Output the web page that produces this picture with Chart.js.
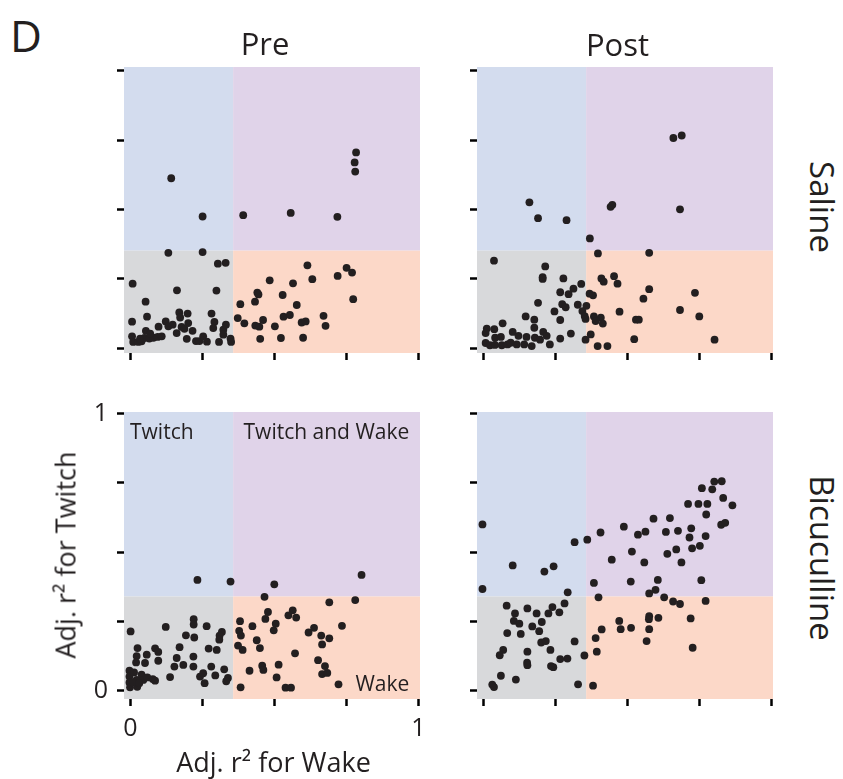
<!DOCTYPE html>
<html><head><meta charset="utf-8">
<script src="https://cdn.jsdelivr.net/npm/chart.js@4.4.1/dist/chart.umd.min.js"></script>
<style>
html,body{margin:0;padding:0;background:#fff;}
#wrap{position:relative;width:843px;height:779px;overflow:hidden;font-family:"Open Sans",sans-serif;color:#231f20;}
canvas{position:absolute;}
.t{position:absolute;line-height:1;white-space:nowrap;}
.rot{position:absolute;line-height:1;white-space:nowrap;}
</style></head><body><div id="wrap">
<canvas id="c0"></canvas><canvas id="c1"></canvas><canvas id="c2"></canvas><canvas id="c3"></canvas>
<div class="t" style="left:10px;top:13px;font-size:44px;">D</div>
<div class="t" id="colPre" style="left:165px;width:200px;text-align:center;top:27.5px;font-size:31px;"></div>
<div class="t" id="colPost" style="left:517.5px;width:200px;text-align:center;top:28.5px;font-size:31px;"></div>
<div class="rot" id="rowSal" style="left:822px;top:207px;font-size:33px;transform:translate(-50%,-50%) rotate(90deg);"></div>
<div class="rot" id="rowBic" style="left:822px;top:558px;font-size:33px;transform:translate(-50%,-50%) rotate(90deg);"></div>
<div class="rot" id="ytitle" style="left:64.5px;top:555px;font-size:27px;transform:translate(-50%,-50%) rotate(-90deg);"></div>
<div class="t" id="xtitle" style="left:173.5px;width:200px;text-align:center;top:747.7px;font-size:27px;"></div>
<div class="t" id="qTw" style="left:130px;top:420.6px;font-size:21px;"></div>
<div class="t" id="qTwW" style="right:433.7px;top:420.6px;font-size:21px;"></div>
<div class="t" id="qW" style="right:433.7px;top:673px;font-size:21px;"></div>
</div>
<script>
// ---- data ----
const columnTitles = ['Pre', 'Post'];
const rowTitles = ['Saline', 'Bicuculline'];
const xAxisTitle = 'Adj. r² for Wake';
const yAxisTitle = 'Adj. r² for Twitch';
const quadrantLabels = ['Twitch', 'Twitch and Wake', 'Wake'];
const tickValues = [0, 0.25, 0.5, 0.75, 1];
const wakeThreshold = 0.357;
const twitchThresholds = [0.352, 0.34];

const salinePre = [
[.142,.613],[.251,.475],[.392,.480],[.557,.488],[.719,.474],[.784,.706],[.779,.670],[.781,.637],
[.132,.344],[.251,.347],[.304,.305],[.331,.308],[.008,.233],[.162,.209],[.299,.208],[.053,.168],
[.006,.096],[.058,.114],[.098,.078],[.123,.097],[.132,.079],[.147,.085],[.170,.129],[.173,.111],
[.199,.125],[.161,.055],[.178,.077],[.188,.070],[.201,.091],[.216,.063],[.196,.034],[.228,.026],
[.240,.026],[.253,.043],[.266,.024],[.282,.125],[.292,.095],[.288,.073],[.323,.067],[.332,.085],
[.323,.049],[.308,.023],[.348,.035],[.350,.023],[.006,.043],[.010,.023],[.028,.023],[.039,.025],
[.054,.063],[.049,.037],[.066,.035],[.080,.038],[.095,.041],[.109,.043],[.034,.035],[.069,.053],
[.615,.299],[.484,.245],[.565,.234],[.632,.249],[.720,.261],[.751,.290],[.770,.273],[.774,.177],
[.441,.201],[.445,.194],[.433,.168],[.382,.159],[.529,.192],[.578,.156],[.373,.109],[.396,.090],
[.461,.102],[.434,.082],[.448,.078],[.502,.079],[.532,.114],[.554,.120],[.595,.093],[.609,.097],
[.671,.117],[.678,.081],[.451,.034],[.523,.037],[.600,.038]
];
const salinePost = [
[.660,.758],[.689,.767],[.683,.501],[.160,.526],[.190,.469],[.289,.462],[.442,.510],[.448,.517],
[.370,.396],[.398,.342],[.576,.344],
[.037,.316],[.215,.295],[.206,.256],[.206,.250],[.278,.252],[.340,.232],[.313,.215],[.267,.202],
[.296,.195],[.190,.164],[.274,.159],[.286,.148],[.247,.133],[.328,.157],[.358,.153],[.344,.134],
[.352,.116],[.355,.106],[.147,.115],[.177,.103],[.177,.074],[.267,.102],[.067,.090],[.304,.053],
[.267,.035],[.355,.031],[.012,.071],[.038,.069],[.008,.055],[.041,.038],[.061,.041],[.102,.059],
[.122,.045],[.150,.041],[.179,.038],[.208,.059],[.220,.045],[.008,.019],[.023,.011],[.064,.011],
[.084,.014],[.116,.014],[.142,.014],[.168,.008],[.197,.031],[.231,.014],[.040,.012],[.095,.020],
[.410,.252],[.418,.240],[.454,.260],[.466,.233],[.369,.197],[.381,.191],[.576,.213],[.556,.179],
[.735,.200],[.683,.138],[.750,.115],[.473,.132],[.384,.115],[.408,.110],[.390,.098],[.415,.089],
[.530,.103],[.540,.103],[.524,.033],[.803,.031],[.373,.050],[.397,.008],[.431,.008]
];
const bicucullinePre = [
[.233,.400],[.348,.394],[.500,.384],[.803,.418],[.466,.339],[.691,.319],[.781,.327],[.478,.284],
[.564,.290],[.576,.264],[.549,.272],[.469,.259],[.505,.242],[.381,.251],[.424,.233],[.378,.216],
[.384,.199],[.498,.218],[.638,.227],[.619,.210],[.663,.199],[.691,.189],[.735,.234],[.439,.182],
[.666,.167],[.374,.163],[.390,.147],[.450,.154],[.572,.135],[.652,.110],[.676,.089],[.666,.060],
[.684,.064],[.458,.090],[.462,.075],[.515,.094],[.414,.072],[.508,.048],[.383,.012],[.539,.011],
[.558,.011],[.723,.023],
[.001,.214],[.123,.230],[.220,.258],[.220,.239],[.265,.233],[.193,.200],[.222,.192],[.318,.212],
[.310,.199],[.309,.184],[.025,.154],[.057,.130],[.086,.153],[.097,.140],[.171,.157],[.272,.152],
[.300,.147],[.022,.125],[.020,.102],[.051,.100],[.097,.108],[.161,.118],[.219,.123],[.153,.087],
[.184,.093],[.219,.087],[.281,.087],[.326,.077],[.295,.055],[.242,.051],[.253,.063],[.339,.046],
[.333,.034],[.258,.027],[.138,.049],[-.003,.072],[-.003,.051],[-.003,.030],[-.001,.012],[.013,.066],
[.022,.039],[.024,.014],[.039,.058],[.045,.039],[.059,.048],[.078,.042],[.086,.036],[.010,.030],
[.031,.027]
];
const bicucullinePost = [
[-.003,.600],[-.003,.367],[.102,.452],[.212,.430],[.244,.449],[.317,.536],[.361,.545],[.407,.571],
[.293,.355],[.384,.389],[.446,.473],[.488,.592],[.516,.502],[.537,.563],[.563,.574],[.559,.463],
[.512,.394],[.591,.621],[.634,.573],[.648,.623],[.676,.577],[.639,.494],[.670,.510],[.688,.463],
[.606,.400],[.598,.364],[.576,.351],[.628,.337],[.659,.322],[.683,.313],[.711,.674],[.747,.674],
[.778,.674],[.774,.636],[.759,.731],[.795,.727],[.802,.755],[.828,.756],[.833,.696],[.865,.669],
[.826,.599],[.840,.606],[.722,.586],[.716,.553],[.725,.514],[.752,.523],[.772,.558],[.757,.399],
[.772,.324],
[.400,.337],[.720,.261],[.727,.155],[.576,.269],[.575,.258],[.608,.263],[.576,.222],[.567,.179],
[.472,.252],[.477,.222],[.513,.227],[.411,.221],[.390,.190],[.394,.141],[.381,.018],
[.081,.307],[.110,.279],[.106,.252],[.125,.242],[.153,.297],[.185,.279],[.203,.248],[.226,.279],
[.240,.302],[.264,.283],[.282,.315],[.083,.208],[.130,.205],[.170,.232],[.194,.215],[.201,.174],
[.217,.179],[.233,.147],[.317,.178],[.351,.127],[.292,.116],[.267,.114],[.153,.141],[.152,.101],
[.153,.092],[.235,.089],[.243,.085],[.069,.147],[.057,.128],[.061,.054],[.113,.040],[.031,.022],
[.037,.013],[.329,.023]
];

// ---- text ----
document.getElementById('colPre').textContent = columnTitles[0];
document.getElementById('colPost').textContent = columnTitles[1];
document.getElementById('rowSal').textContent = rowTitles[0];
document.getElementById('rowBic').textContent = rowTitles[1];
document.getElementById('xtitle').textContent = xAxisTitle;
document.getElementById('ytitle').textContent = yAxisTitle;
document.getElementById('qTw').textContent = quadrantLabels[0];
document.getElementById('qTwW').textContent = quadrantLabels[1];
document.getElementById('qW').textContent = quadrantLabels[2];

// ---- charts ----
const quadrantPlugin = {
  id: 'quadrants',
  beforeDraw(chart, args, opts) {
    const {ctx, chartArea: a, scales: {x, y}} = chart;
    const tx = x.getPixelForValue(opts.tx), ty = y.getPixelForValue(opts.ty);
    ctx.save();
    ctx.fillStyle = '#d3dcee'; ctx.fillRect(a.left, a.top, tx - a.left, ty - a.top);
    ctx.fillStyle = '#e0d3e9'; ctx.fillRect(tx, a.top, a.right - tx, ty - a.top);
    ctx.fillStyle = '#d8d9db'; ctx.fillRect(a.left, ty, tx - a.left, a.bottom - ty);
    ctx.fillStyle = '#fcd8c8'; ctx.fillRect(tx, ty, a.right - tx, a.bottom - ty);
    ctx.restore();
  }
};

function zeroPad(s) { s.paddingLeft = 0; s.paddingRight = 0; s.paddingTop = 0; s.paddingBottom = 0; }
const PADL = 50, PADT = 20, PADR = 20, PADB = 60;

function makeChart(id, area, pts, yMin, yMax, ty, showLabels) {
  const cv = document.getElementById(id);
  const W = Math.round(area.r - area.l) + PADL + PADR, H = Math.round(area.b - area.t) + PADT + PADB;
  const cvL = area.l - PADL, cvT = area.t - PADT;
  cv.width = W; cv.height = H;
  cv.style.left = cvL + 'px'; cv.style.top = cvT + 'px';
  cv.style.width = W + 'px'; cv.style.height = H + 'px';
  const tickFont = {family: 'Open Sans', size: 25};
  const lbl = v => (v === 0 ? '0' : (v === 1 ? '1' : ''));
  const grid = {drawOnChartArea: false, drawTicks: true, tickLength: 7, tickWidth: 2.5, tickColor: '#000'};
  return new Chart(cv, {
    type: 'scatter',
    data: {datasets: [{data: pts.map(p => ({x: p[0], y: p[1]})), backgroundColor: '#231f20',
      borderWidth: 0, pointRadius: 3.9, pointHoverRadius: 3.9}]},
    options: {
      responsive: false, animation: false, devicePixelRatio: 1,
      layout: {autoPadding: false, padding: {left: 0, top: PADT, right: PADR, bottom: 10}},
      plugins: {legend: {display: false}, tooltip: {enabled: false}, quadrants: {tx: wakeThreshold, ty: ty}},
      scales: {
        x: {type: 'linear', min: -0.022, max: 1.006, border: {display: false}, grid: grid,
          ticks: {display: showLabels, padding: 8, font: tickFont, color: '#231f20', maxRotation: 0, autoSkip: false, callback: lbl},
          afterBuildTicks: s => { s.ticks = tickValues.map(v => ({value: v})); },
          afterFit: s => { s.height = PADB - 10; zeroPad(s); }},
        y: {type: 'linear', min: yMin, max: yMax, border: {display: false}, grid: grid,
          ticks: {display: showLabels, padding: 9, font: tickFont, color: '#231f20', autoSkip: false, callback: lbl},
          afterBuildTicks: s => { s.ticks = tickValues.map(v => ({value: v})); },
          afterFit: s => { s.width = PADL; zeroPad(s); }}
      }
    },
    plugins: [quadrantPlugin]
  });
}

makeChart('c0', {l: 124, t: 66.7, r: 420, b: 352.7}, salinePre, -0.017, 1.014, twitchThresholds[0], false);
makeChart('c1', {l: 477, t: 66.7, r: 773, b: 352.7}, salinePost, -0.017, 1.014, twitchThresholds[0], false);
makeChart('c2', {l: 124, t: 411.7, r: 420, b: 698.3}, bicucullinePre, -0.030, 1.006, twitchThresholds[1], true);
makeChart('c3', {l: 477, t: 411.7, r: 773, b: 698.3}, bicucullinePost, -0.030, 1.006, twitchThresholds[1], false);
</script>
</body></html>
